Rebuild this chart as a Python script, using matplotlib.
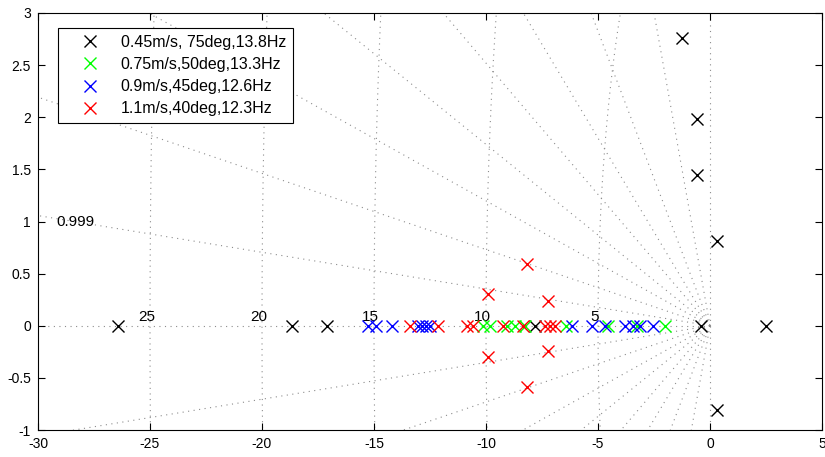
import numpy as np
import matplotlib.pyplot as plt

plt.rcParams['font.family'] = ['Liberation Sans', 'DejaVu Sans']
plt.rcParams['axes.unicode_minus'] = False

labels = ['0.45m/s, 75deg,13.8Hz', '0.75m/s,50deg,13.3Hz',
          '0.9m/s,45deg,12.6Hz', '1.1m/s,40deg,12.3Hz']
colors = ['k', '#00ff00', 'b', 'r']

# poles on the real axis, one list per case
real_poles = [
    [-26.43, -18.66, -17.1, -7.8, -0.4, 2.49],
    [-10.13, -9.82, -9.06, -8.71, -8.26, -6.45, -4.55, -3.26, -2.01],
    [-15.27, -14.91, -14.2, -13.04, -12.86, -12.68, -12.5,
     -6.16, -5.27, -4.69, -3.79, -3.44, -3.13, -2.54],
    [-13.39, -12.14, -10.85, -10.58, -9.24, -8.35, -7.37, -7.14, -6.92],
]
# complex conjugate pairs (real part, imag part)
cplx_re = [[-1.27, -0.59, -0.59, 0.30], [], [], [-8.18, -9.9, -7.22]]
cplx_im = [[2.76, 1.98, 1.45, 0.81], [], [], [0.59, 0.30, 0.24]]

# sgrid
zeta = [0.99938, 0.99734, 0.9929, 0.9852, 0.9697, 0.9409, 0.8706, 0.640]
wn = [5, 10, 15, 20, 25]

fig = plt.figure(figsize=(8.25, 4.57), dpi=100)
ax = fig.add_axes([38/825, 1-430/457, 784/825, 417/457])

gs = dict(color='0.55', linestyle=(0, (1, 4)), linewidth=0.8, zorder=1)
r = np.array([0, 60])
for z in zeta:
    th = np.arccos(z)
    ax.plot(-r*np.cos(th), r*np.sin(th), **gs)
    ax.plot(-r*np.cos(th), -r*np.sin(th), **gs)
ax.plot([0, -60], [0, 0], **gs)
ax.plot([0, 0], [0, 60], **gs)
ax.plot([0, 0], [0, -60], **gs)
t = np.linspace(np.pi/2, 3*np.pi/2, 2000)
for w in wn:
    ax.plot(w*np.cos(t), w*np.sin(t), **gs)
    ax.text(-w - 0.15, 0.02, str(w), ha='center', va='bottom', fontsize=11)
ax.text(-29.2, 1.0, '0.999', ha='left', va='center', fontsize=11)

for i in range(4):
    re = np.array(real_poles[i] + cplx_re[i] + cplx_re[i], dtype=float)
    im = np.array([0.0]*len(real_poles[i]) + cplx_im[i] + [-v for v in cplx_im[i]])
    ax.plot(re, im, 'x', color=colors[i], ms=8, mew=1.0, label=labels[i], zorder=3)

ax.set_xlim(-30, 5)
ax.set_ylim(-1, 3)
ax.set_xticks(np.arange(-30, 6, 5))
ax.set_yticks(np.arange(-1, 3.01, 0.5))
ax.set_yticklabels(['-1', '-0.5', '0', '0.5', '1', '1.5', '2', '2.5', '3'])
ax.tick_params(direction='in', top=True, right=True, length=5, labelsize=10)
ax.tick_params(axis='x', pad=5)
ax.tick_params(axis='y', pad=5)

leg = ax.legend(loc='upper left', bbox_to_anchor=(0.0255, 0.964), borderaxespad=0,
                fontsize=11.5, fancybox=False, edgecolor='k', framealpha=1,
                handlelength=3.2, handletextpad=0.3, labelspacing=0.45, borderpad=0.42)
leg.get_frame().set_linewidth(0.8)

fig.savefig('out.png', dpi=100)
